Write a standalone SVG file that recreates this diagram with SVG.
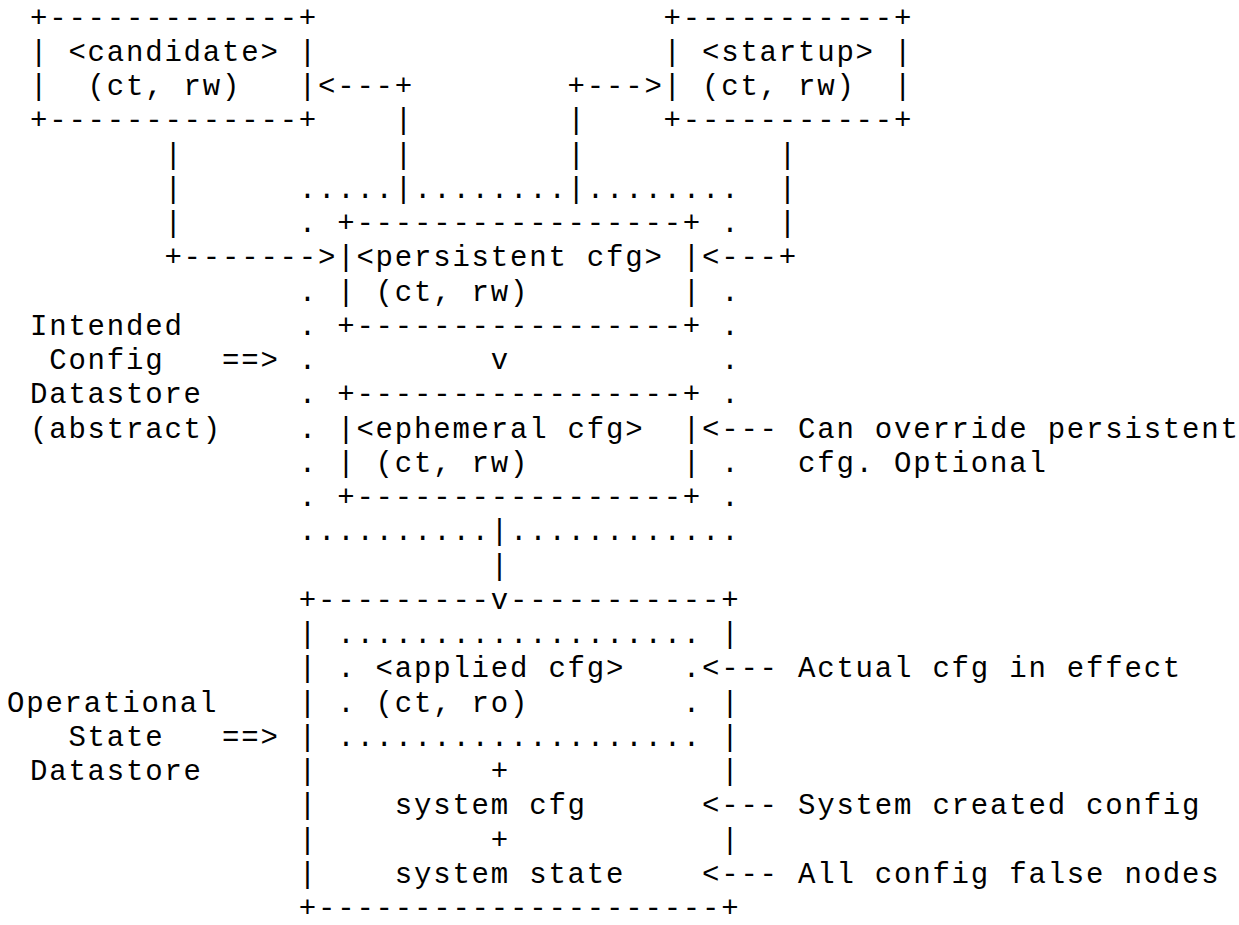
<svg xmlns="http://www.w3.org/2000/svg" width="1239" height="925" viewBox="0 0 1239 925" xml:space="preserve">
<style>
text { font-family: "Nimbus Mono PS", "Courier New", "Liberation Mono", monospace; font-size: 29px; letter-spacing: 1.8px; fill: #000; white-space: pre; }
</style>
<rect width="1239" height="925" fill="#fff"/>
<g id="candidate">
<text><tspan x="30" y="26.5">+-------------+</tspan><tspan x="30" y="60.8">| &lt;candidate&gt; |</tspan><tspan x="30" y="95">|  (ct, rw)   |</tspan><tspan x="30" y="129.3">+-------------+</tspan></text>
</g>
<g id="startup">
<text><tspan x="663.6" y="26.5">+-----------+</tspan><tspan x="663.6" y="60.8">| &lt;startup&gt; |</tspan><tspan x="663.6" y="95">| (ct, rw)  |</tspan><tspan x="663.6" y="129.3">+-----------+</tspan></text>
</g>
<g id="intended-boundary">
<text><tspan x="298.8" y="197.8">.....</tspan><tspan x="414" y="197.8">........</tspan><tspan x="586.8" y="197.8">........</tspan><tspan x="298.8" y="232">.</tspan><tspan x="721.2" y="232">.</tspan><tspan x="298.8" y="300.5">.</tspan><tspan x="721.2" y="300.5">.</tspan><tspan x="298.8" y="334.8">.</tspan><tspan x="721.2" y="334.8">.</tspan><tspan x="298.8" y="369">.</tspan><tspan x="721.2" y="369">.</tspan><tspan x="298.8" y="403.3">.</tspan><tspan x="721.2" y="403.3">.</tspan><tspan x="298.8" y="437.5">.</tspan><tspan x="298.8" y="471.8">.</tspan><tspan x="721.2" y="471.8">.</tspan><tspan x="298.8" y="506">.</tspan><tspan x="721.2" y="506">.</tspan><tspan x="298.8" y="540.3">..........</tspan><tspan x="510" y="540.3">............</tspan></text>
</g>
<g id="intended-label">
<text><tspan x="30" y="334.8">Intended</tspan><tspan x="49.2" y="369">Config</tspan><tspan x="30" y="403.3">Datastore</tspan><tspan x="30" y="437.5">(abstract)</tspan><tspan x="222" y="369">==&gt;</tspan></text>
</g>
<g id="persistent">
<text><tspan x="337.2" y="232">+-----------------+</tspan><tspan x="337.2" y="266.3">|&lt;persistent cfg&gt; |</tspan><tspan x="337.2" y="300.5">| (ct, rw)        |</tspan><tspan x="337.2" y="334.8">+-----------------+</tspan></text>
</g>
<g id="ephemeral">
<text><tspan x="337.2" y="403.3">+-----------------+</tspan><tspan x="337.2" y="437.5">|&lt;ephemeral cfg&gt;  |</tspan><tspan x="337.2" y="471.8">| (ct, rw)        |</tspan><tspan x="337.2" y="506">+-----------------+</tspan></text>
</g>
<g id="operational">
<text><tspan x="298.8" y="608.8">+---------v-----------+</tspan><tspan x="298.8" y="643">|</tspan><tspan x="721.2" y="643">|</tspan><tspan x="298.8" y="677.3">|</tspan><tspan x="298.8" y="711.5">|</tspan><tspan x="721.2" y="711.5">|</tspan><tspan x="298.8" y="745.8">|</tspan><tspan x="721.2" y="745.8">|</tspan><tspan x="298.8" y="780">|</tspan><tspan x="490.8" y="780">+</tspan><tspan x="721.2" y="780">|</tspan><tspan x="298.8" y="814.3">|</tspan><tspan x="394.8" y="814.3">system cfg</tspan><tspan x="298.8" y="848.5">|</tspan><tspan x="490.8" y="848.5">+</tspan><tspan x="721.2" y="848.5">|</tspan><tspan x="298.8" y="882.8">|</tspan><tspan x="394.8" y="882.8">system state</tspan><tspan x="298.8" y="917">+---------------------+</tspan></text>
</g>
<g id="applied">
<text><tspan x="337.2" y="643">...................</tspan><tspan x="337.2" y="677.3">. &lt;applied cfg&gt;   .</tspan><tspan x="337.2" y="711.5">. (ct, ro)        .</tspan><tspan x="337.2" y="745.8">...................</tspan></text>
</g>
<g id="operational-label">
<text><tspan x="7" y="711.5">Operational</tspan><tspan x="68.4" y="745.8">State</tspan><tspan x="30" y="780">Datastore</tspan><tspan x="222" y="745.8">==&gt;</tspan></text>
</g>
<g id="connectors">
<text><tspan x="318" y="95">&lt;---+</tspan><tspan x="567.6" y="95">+---&gt;</tspan><tspan x="394.8" y="129.3">|</tspan><tspan x="567.6" y="129.3">|</tspan><tspan x="164.4" y="163.5">|</tspan><tspan x="394.8" y="163.5">|</tspan><tspan x="567.6" y="163.5">|</tspan><tspan x="778.8" y="163.5">|</tspan><tspan x="164.4" y="197.8">|</tspan><tspan x="394.8" y="197.8">|</tspan><tspan x="567.6" y="197.8">|</tspan><tspan x="778.8" y="197.8">|</tspan><tspan x="164.4" y="232">|</tspan><tspan x="778.8" y="232">|</tspan><tspan x="164.4" y="266.3">+-------&gt;</tspan><tspan x="702" y="266.3">&lt;---+</tspan><tspan x="490.8" y="369">v</tspan><tspan x="490.8" y="540.3">|</tspan><tspan x="490.8" y="574.5">|</tspan><tspan x="702" y="437.5">&lt;---</tspan><tspan x="702" y="677.3">&lt;---</tspan><tspan x="702" y="814.3">&lt;---</tspan><tspan x="702" y="882.8">&lt;---</tspan></text>
</g>
<g id="annotations">
<text><tspan x="798" y="437.5">Can override persistent</tspan><tspan x="798" y="471.8">cfg. Optional</tspan><tspan x="798" y="677.3">Actual cfg in effect</tspan><tspan x="798" y="814.3">System created config</tspan><tspan x="798" y="882.8">All config false nodes</tspan></text>
</g>
</svg>
